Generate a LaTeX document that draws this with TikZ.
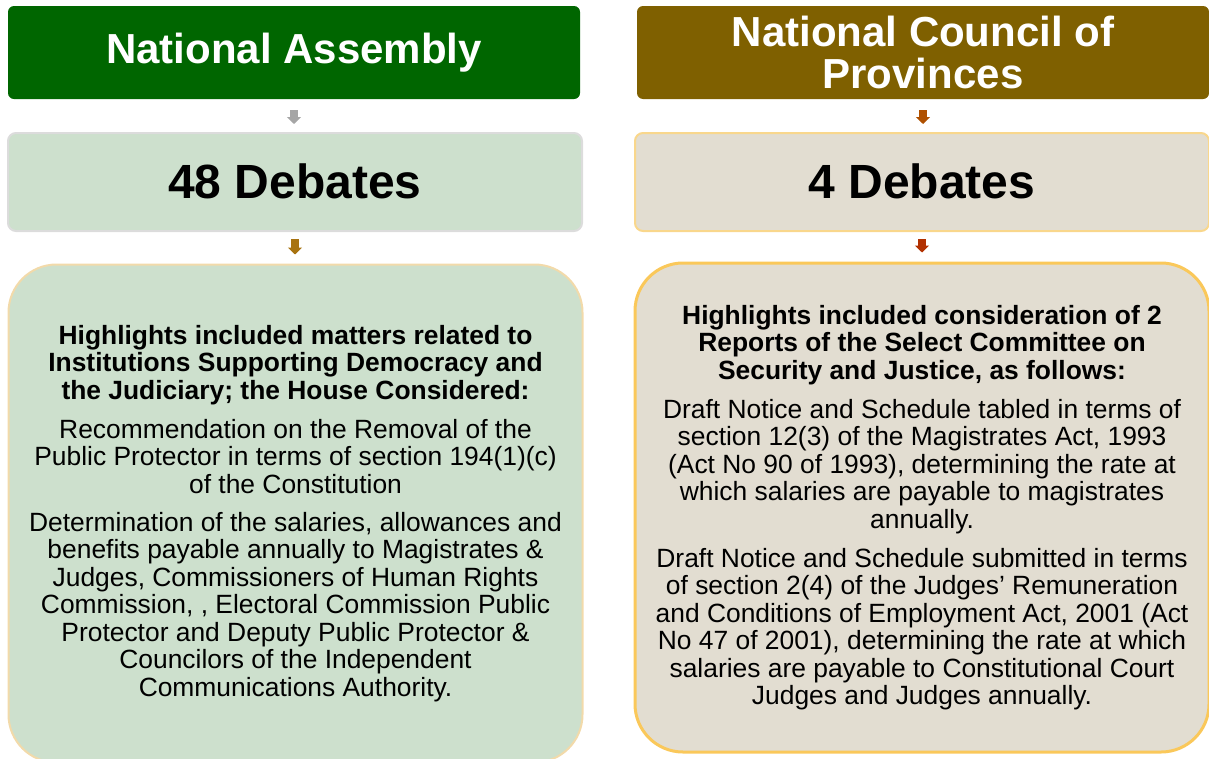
\documentclass[tikz,border=0pt]{standalone}
\usepackage{fontspec}
\setmainfont{Liberation Sans}
\usetikzlibrary{arrows.meta}
\definecolor{nagreen}{RGB}{0,102,0}
\definecolor{ncopbrown}{RGB}{127,96,0}
\definecolor{greenfill}{RGB}{205,224,205}
\definecolor{tanfill}{RGB}{226,221,209}
\definecolor{greyline}{RGB}{220,220,220}
\definecolor{paleorange}{RGB}{249,215,140}
\definecolor{paletan}{RGB}{242,218,170}
\definecolor{gold}{RGB}{250,200,90}
\definecolor{arrgrey}{RGB}{166,166,166}
\definecolor{arrochre}{RGB}{168,115,16}
\definecolor{arrorange}{RGB}{175,80,0}
\definecolor{arrred}{RGB}{178,48,0}
\tikzset{
  header/.style={fill=#1, rounded corners=6pt, minimum width=572pt, minimum height=93pt,
    inner sep=0pt, text=white, align=center,
    font=\fontsize{42}{42}\selectfont\bfseries},
  countbox/.style={fill=#1, rounded corners=8pt, minimum width=574pt, minimum height=98pt,
    inner sep=0pt, font=\fontsize{48}{48}\selectfont\bfseries},
  detailbox/.style={fill=#1, rounded corners=48pt, minimum width=574pt,
    inner sep=0pt, align=center, font=\fontsize{26.4}{27.5}\selectfont},
  blockarrow/.style={draw=#1, line width=8pt, -{Triangle[width=14pt,length=7pt]}}
}
\begin{document}
\begin{tikzpicture}[x=1pt,y=-1pt]
\useasboundingbox (0,0) rectangle (1209,758);

% National Assembly column
\node[header=nagreen] (na) at (294,52.5) {\raisebox{-3pt}{National Assembly}};
\node[countbox=greenfill, draw=greyline, line width=2pt] (nad) at (295,182) {\raisebox{2.5pt}{48 Debates}};
\node[detailbox=greenfill, draw=paletan, line width=2pt, minimum height=498pt] (nah) at (295.5,513.5)
  {\textbf{Highlights included matters related to}\\
   \textbf{Institutions Supporting Democracy and}\\
   \textbf{the Judiciary; the House Considered:}\\[11.5pt]
   Recommendation on the Removal of the\\
   Public Protector in terms of section 194(1)(c)\\
   of the Constitution\\[10.5pt]
   Determination of the salaries, allowances and\\
   benefits payable annually to Magistrates \&\\
   Judges, Commissioners of Human Rights\\
   Commission, , Electoral Commission Public\\
   Protector and Deputy Public Protector \&\\
   Councilors of the Independent\\
   Communications Authority.};

% National Council of Provinces column
\node[header=ncopbrown] (ncop) at (923,52.5) {National Council of\\Provinces};
\node[countbox=tanfill, draw=paleorange, line width=2pt] (ncopd) at (922,182) {\raisebox{2.5pt}{4 Debates}};
\node[detailbox=tanfill, draw=gold, line width=3pt, minimum height=489pt] (ncoph) at (922,507.5)
  {\textbf{Highlights included consideration of 2}\\
   \textbf{Reports of the Select Committee on}\\
   \textbf{Security and Justice, as follows:}\\[11.5pt]
   Draft Notice and Schedule tabled in terms of\\
   section 12(3) of the Magistrates Act, 1993\\
   (Act No 90 of 1993), determining the rate at\\
   which salaries are payable to magistrates\\
   annually.\\[11.5pt]
   Draft Notice and Schedule submitted in terms\\
   of section 2(4) of the Judges' Remuneration\\
   and Conditions of Employment Act, 2001 (Act\\
   No 47 of 2001), determining the rate at which\\
   salaries are payable to Constitutional Court\\
   Judges and Judges annually.};

% connectors
\draw[blockarrow=arrgrey, shorten <=11pt, shorten >=8pt] (na.south) -- (na.south |- nad.north);
\draw[blockarrow=arrochre, shorten <=7pt, shorten >=9pt] (nad.south) -- (nad.south |- nah.north);
\draw[blockarrow=arrorange, shorten <=11pt, shorten >=8pt] (ncop.south) -- (ncop.south |- ncopd.north);
\draw[blockarrow=arrred, shorten <=7pt, shorten >=9pt] (ncopd.south) -- (ncopd.south |- ncoph.north);
\end{tikzpicture}
\end{document}
